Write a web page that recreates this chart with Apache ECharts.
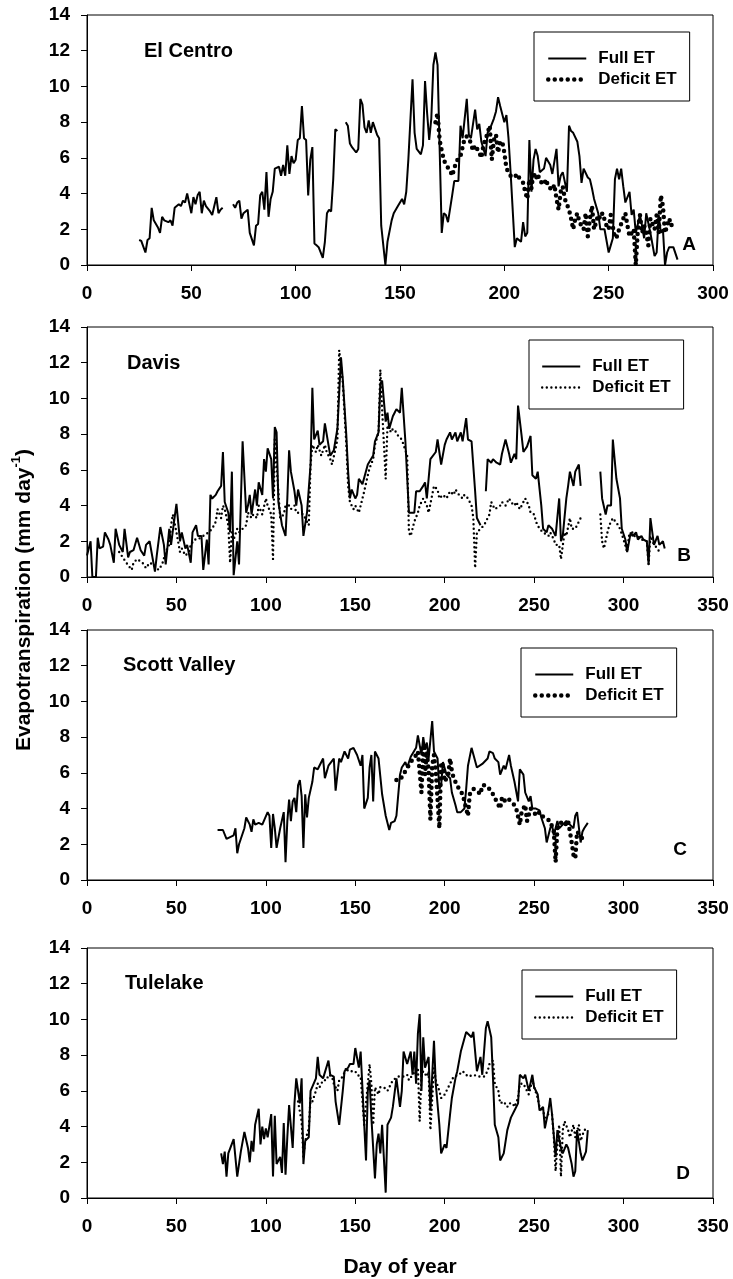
<!DOCTYPE html>
<html>
<head>
<meta charset="utf-8">
<script src="https://cdn.jsdelivr.net/npm/echarts@6/dist/echarts.min.js"></script>
<style>
  html, body { margin: 0; padding: 0; background: #fff; }
  #chart { width: 733px; height: 1279px; }
</style>
</head>
<body>
<div id="chart"></div>
<script>
// [day of year, ET mm/day]; null = gap in the record
const elCentroFull = [[25,1.4],[26,1.35],[28,0.7],[29,1.4],[30,1.5],[31,3.2],[32,2.5],[34,2.1],[35,1.8],[36,2.7],[37,2.5],[39,2.4],[40,2.5],[41,2.2],[42,3.2],[44,3.4],[45,3.3],[46,3.6],[47,3.5],[48,4.0],[50,2.9],[51,3.8],[52,3.4],[53,3.9],[54,4.1],[55,2.9],[56,3.6],[57,3.3],[59,3.0],[60,2.8],[61,3.3],[62,3.8],[63,2.9],[64,3.1],[65,3.2],[67,null],
  [70,3.4],[71,3.2],[72,3.5],[73,3.6],[74,2.6],[75,2.9],[77,3.1],[78,1.8],[80,1.1],[81,2.2],[82,2.3],[83,3.9],[84,4.1],[85,3.1],[86,5.2],[87,2.7],[88,3.7],[89,4.1],[90,5.4],[92,5.5],[93,5.0],[94,5.6],[95,5.0],[96,6.7],[97,5.1],[98,6.1],[99,5.7],[100,5.9],[101,7.0],[102,7.1],[103,8.9],[104,7.1],[105,7.0],[106,3.9],[107,5.9],[108,6.6],[109,1.2],[110,1.1],[111,1.0],[113,0.4],[114,1.3],[115,2.9],[116,3.1],[117,3.0],[118,4.8],[119,7.6],[120,7.5],[122,null],
  [124,8.0],[125,7.8],[126,6.8],[127,6.6],[129,6.3],[130,6.5],[131,9.3],[132,9.0],[133,7.7],[134,7.4],[135,8.1],[136,7.4],[137,8.0],[139,7.3],[140,7.1],[141,2.2],[143,0.0],[144,1.3],[146,2.5],[147,2.9],[149,3.3],[150,3.5],[151,3.7],[152,3.4],[153,4.1],[154,5.9],[156,10.4],[157,7.4],[158,6.5],[160,6.2],[161,6.7],[162,10.3],[163,8.5],[164,7.0],[165,8.2],[166,11.2],[167,11.9],[168,11.2],[169,6.5],[170,1.8],[171,2.9],[172,2.8],[173,2.4],[175,3.9],[176,4.7],[178,4.7],[179,7.8],[180,7.1],[182,9.3],[183,7.3],[184,7.1],[186,8.7],[187,7.6],[188,7.9],[189,6.9],[191,6.1],[192,7.4],[193,7.6],[195,8.2],[196,8.6],[197,9.4],[198,8.9],[200,8.0],[201,8.4],[202,7.1],[203,5.2],[205,1.0],[206,1.5],[208,1.3],[209,2.4],[210,1.6],[211,1.8],[212,7.0],[213,4.1],[214,5.9],[215,6.5],[216,6.1],[217,5.2],[219,5.4],[220,6.0],[222,5.6],[223,5.1],[225,6.5],[226,4.4],[227,5.0],[228,5.2],[230,4.1],[231,7.8],[232,7.5],[233,7.4],[235,6.9],[236,6.1],[237,4.6],[238,5.4],[240,4.9],[241,4.8],[242,4.3],[243,3.7],[245,2.9],[246,2.0],[248,2.0],[250,0.7],[251,1.1],[252,1.5],[253,4.8],[254,5.4],[255,4.8],[256,5.4],[257,4.4],[258,3.5],[260,4.1],[261,2.8],[262,3.1],[263,1.8],[265,2.8],[266,2.2],[267,1.5],[268,2.9],[270,1.8],[272,0.5],[273,0.7],[274,2.8],[275,1.8],[276,2.0],[277,0.0],[278,0.7],[279,1.0],[281,1.0],[283,0.3]];

const elCentroDeficit = [[167,8.0],[168,8.5],[169,7.0],[170,6.4],[171,5.9],[172,5.6],[174,5.3],[175,5.0],[176,5.4],[177,5.8],[179,6.1],[180,6.6],[181,7.1],[182,7.2],[183,7.1],[184,6.8],[185,6.4],[186,6.7],[188,6.3],[189,6.0],[190,6.7],[192,7.4],[193,7.8],[194,5.9],[195,7.0],[196,7.3],[197,6.3],[198,6.9],[199,6.9],[200,6.3],[201,5.4],[202,5.2],[203,5.0],[205,4.9],[206,5.1],[207,4.9],[209,4.6],[210,4.1],[211,3.7],[212,4.8],[213,4.3],[214,5.2],[215,4.8],[216,5.1],[217,4.7],[219,4.5],[220,4.8],[221,4.4],[223,4.2],[224,4.5],[225,3.7],[226,3.1],[227,4.1],[228,4.4],[229,3.7],[231,3.1],[232,2.6],[233,2.0],[234,2.6],[235,2.9],[236,2.4],[238,2.0],[239,2.9],[240,1.6],[241,2.6],[242,3.3],[243,2.0],[245,2.8],[246,2.6],[247,2.9],[249,2.2],[250,2.0],[251,2.8],[253,1.5],[254,1.6],[255,2.0],[257,2.6],[258,2.9],[259,2.2],[260,1.6],[262,2.0],[263,0.0],[264,2.0],[265,2.8],[266,1.8],[267,2.2],[268,1.8],[269,1.1],[270,2.6],[272,2.0],[273,2.8],[274,1.8],[275,3.9],[276,3.3],[277,1.8],[279,2.6],[280,2.2],[281,2.5]];

const davisFull = [[0,1.2],[1,1.1],[2,2.0],[3,0],[5,0],[6,2.2],[7,1.6],[9,1.7],[10,2.5],[12,2.1],[13,1.8],[15,0.8],[16,2.7],[18,1.8],[20,1.4],[21,2.7],[23,1.1],[24,1.4],[26,1.5],[28,2.2],[30,1.5],[32,1.2],[33,1.8],[35,2.0],[36,2.1],[38,0.3],[39,1.2],[41,2.8],[43,1.8],[44,0.7],[46,2.7],[47,1.8],[48,2.6],[50,4.1],[52,2.0],[53,2.5],[55,1.6],[56,1.8],[58,0.8],[59,2.5],[61,2.9],[62,2.3],[64,2.3],[65,0.4],[67,2.1],[68,0.7],[69,4.6],[70,4.4],[72,4.6],[73,4.8],[75,5.1],[76,7.0],[77,4.2],[79,3.6],[80,2.5],[81,5.9],[82,0.1],[84,2.0],[85,0.7],[87,7.6],[89,3.6],[90,4.0],[91,4.6],[92,3.5],[94,4.9],[95,4.0],[96,5.3],[98,4.6],[99,6.6],[100,5.9],[101,7.2],[103,6.6],[104,4.4],[105,8.4],[106,8.1],[107,4.2],[109,2.9],[111,2.3],[112,4.4],[113,7.1],[114,5.9],[116,4.8],[117,4.0],[118,4.9],[120,4.0],[121,2.3],[123,3.6],[124,3.5],[125,6.3],[126,10.6],[127,7.7],[129,8.2],[130,7.4],[132,7.6],[133,8.6],[135,7.4],[136,6.8],[138,7.1],[139,7.7],[140,8.3],[142,12.3],[143,11.1],[145,7.9],[146,5.9],[147,4.4],[148,4.9],[150,4.4],[151,4.6],[152,5.5],[154,5.2],[155,5.1],[157,6.3],[158,6.4],[160,6.8],[161,7.6],[163,8.1],[164,10.8],[165,11.0],[167,8.7],[168,9.2],[169,8.3],[171,9.0],[172,9.2],[173,9.4],[175,9.2],[176,10.6],[178,7.6],[180,3.6],[181,3.5],[183,3.6],[184,4.8],[186,4.8],[188,5.1],[189,5.3],[190,4.4],[192,6.6],[193,6.6],[195,7.0],[196,7.7],[198,6.3],[200,7.4],[201,7.7],[203,8.1],[204,7.7],[206,8.1],[207,7.6],[209,8.1],[210,7.6],[212,8.9],[213,7.7],[215,7.6],[217,4.8],[218,3.3],[220,2.9],[221,null],
  [223,4.8],[224,6.6],[226,6.4],[227,6.6],[229,6.4],[231,6.3],[232,6.9],[234,7.7],[236,6.9],[237,6.4],[239,6.9],[240,6.6],[241,9.6],[243,7.9],[244,7.0],[246,7.3],[248,7.9],[249,5.7],[251,5.5],[252,5.9],[254,4.0],[255,2.7],[257,2.5],[258,2.9],[260,2.7],[261,2.5],[262,2.3],[264,4.4],[265,2.0],[266,2.3],[268,4.4],[269,5.1],[270,5.9],[272,5.1],[273,5.9],[275,6.3],[276,5.1],[280,null],
  [287,5.9],[288,4.4],[290,3.5],[291,4.0],[293,4.0],[294,7.7],[296,5.5],[298,4.4],[299,2.7],[301,2.1],[302,1.4],[304,2.5],[305,2.3],[307,2.5],[308,2.1],[310,2.3],[311,2.1],[313,2.0],[314,0.7],[315,3.3],[317,1.8],[319,2.3],[320,1.8],[322,2.0],[323,1.6]];

const davisDeficit = [[18,1.4],[20,1.1],[22,0.8],[23,0.7],[25,0.4],[26,0.8],[28,1.0],[31,0.8],[33,0.5],[35,0.8],[37,0.7],[40,0.4],[42,0.7],[44,1.4],[46,1.8],[47,2.9],[48,3.5],[50,2.5],[52,1.4],[53,1.6],[55,1.2],[57,1.4],[58,1.8],[60,2.1],[62,2.1],[65,2.3],[66,2.4],[68,2.5],[70,2.7],[72,3.1],[73,3.8],[75,3.3],[76,4.0],[77,3.8],[79,2.9],[80,0.8],[81,2.5],[82,2.1],[84,2.7],[85,2.5],[87,2.7],[89,2.9],[90,3.6],[92,3.3],[93,3.5],[95,3.3],[96,4.0],[98,3.5],[100,4.4],[101,4.0],[103,3.5],[104,1.0],[105,7.7],[106,7.7],[108,3.3],[110,3.5],[111,4.0],[113,4.0],[114,3.8],[116,4.0],[117,3.6],[119,3.6],[121,3.5],[122,3.3],[124,2.9],[125,6.3],[126,7.4],[128,7.0],[129,7.4],[131,6.8],[133,7.4],[134,7.0],[136,6.6],[137,6.3],[139,7.2],[140,7.7],[141,12.7],[143,10.9],[145,7.4],[146,5.1],[147,4.2],[149,3.8],[150,4.0],[152,3.6],[154,4.4],[155,4.8],[157,5.7],[158,6.1],[160,6.6],[161,7.4],[163,8.1],[164,11.6],[165,9.4],[167,5.5],[168,8.5],[170,8.1],[171,8.3],[173,8.1],[174,7.9],[176,7.7],[177,7.6],[179,6.8],[180,2.5],[181,2.3],[183,3.1],[185,3.6],[186,4.0],[188,4.4],[190,4.0],[191,3.6],[193,4.6],[194,5.1],[196,4.9],[197,4.4],[199,4.6],[201,4.4],[202,4.6],[203,4.8],[205,4.6],[206,4.9],[208,4.6],[210,4.4],[211,4.6],[213,4.4],[215,4.0],[216,3.3],[217,0.5],[218,2.5],[220,2.7],[222,2.9],[223,3.1],[225,3.5],[226,4.2],[228,3.8],[229,3.8],[231,4.0],[232,4.2],[234,4.0],[236,4.4],[237,4.2],[239,4.0],[240,4.2],[242,3.8],[244,4.2],[245,4.4],[247,4.0],[248,3.6],[250,3.5],[251,3.1],[253,2.7],[255,2.5],[256,2.5],[258,2.3],[259,2.5],[261,2.1],[262,1.8],[264,1.8],[265,1.0],[267,2.5],[268,2.3],[270,3.3],[271,2.7],[273,2.7],[274,2.7],[276,3.3],[280,null],
  [287,3.5],[288,2.0],[289,1.6],[291,2.5],[292,2.9],[294,3.3],[295,3.3],[297,2.9],[298,2.7],[300,2.1],[302,1.4],[303,2.3],[305,2.5],[306,2.3],[308,2.3],[310,2.1],[311,2.1],[313,2.0],[314,0.7],[315,2.3],[317,1.8],[319,1.6],[320,1.4]];

const scottFull = [[73,2.8],[76,2.8],[78,2.3],[80,2.4],[82,2.5],[83,2.9],[84,1.5],[85,2.0],[86,2.0],[88,2.9],[89,3.5],[91,3.1],[92,2.7],[93,3.4],[94,3.1],[96,3.2],[98,3.1],[99,3.0],[101,3.8],[102,3.6],[103,1.8],[104,3.7],[105,2.9],[106,1.8],[108,2.9],[109,2.8],[110,3.8],[111,1.0],[112,3.3],[113,4.5],[114,3.3],[115,4.4],[116,4.6],[117,3.8],[118,5.3],[119,5.6],[120,4.7],[121,1.8],[122,4.8],[123,3.5],[124,4.6],[126,5.5],[127,6.3],[129,6.2],[130,6.1],[132,6.8],[133,5.7],[135,6.4],[136,6.5],[138,6.8],[139,5.0],[141,6.8],[142,6.6],[144,7.2],[146,6.8],[147,7.3],[149,7.4],[150,7.4],[151,7.0],[153,6.4],[154,7.0],[155,4.0],[157,4.6],[158,6.3],[159,7.0],[160,4.4],[161,7.2],[163,6.8],[164,6.8],[165,4.8],[167,3.6],[169,2.8],[170,3.2],[172,3.3],[173,3.6],[175,5.9],[176,6.3],[178,6.6],[179,6.3],[181,6.9],[182,6.8],[184,7.4],[185,8.1],[187,7.0],[188,8.0],[189,7.3],[190,7.7],[191,6.8],[193,8.9],[194,7.2],[196,6.8],[197,5.1],[198,5.3],[199,6.6],[201,5.9],[203,5.7],[204,4.9],[206,4.2],[207,3.8],[209,3.8],[211,4.0],[212,5.1],[213,6.4],[215,7.4],[216,7.5],[218,6.3],[219,6.2],[221,6.5],[222,6.6],[224,6.8],[225,7.2],[227,7.1],[228,6.8],[230,6.6],[231,5.9],[233,6.4],[234,6.2],[236,7.0],[237,6.4],[239,5.5],[241,4.4],[242,6.2],[244,5.9],[245,4.9],[247,4.4],[248,4.7],[249,4.0],[251,4.0],[253,3.9],[254,3.5],[256,2.9],[257,2.1],[259,2.9],[260,3.1],[261,2.5],[263,3.3],[264,2.9],[266,3.1],[268,3.3],[269,3.4],[270,3.1],[272,2.9],[273,3.6],[274,3.8],[276,2.1],[277,2.7],[278,2.9],[280,3.2]];

const scottDeficit = [[173,5.6],[175,5.6],[176,5.6],[178,6.1],[179,6.0],[181,6.6],[182,6.6],[184,7.0],[185,7.2],[187,4.9],[188,7.4],[189,5.9],[190,7.2],[191,6.1],[192,3.4],[193,6.4],[194,7.0],[195,6.1],[197,2.9],[198,6.6],[199,6.4],[200,5.5],[202,5.9],[203,6.8],[204,6.1],[205,5.7],[207,5.3],[208,5.1],[210,4.8],[212,4.0],[213,3.6],[214,4.8],[216,5.1],[218,5.0],[220,4.8],[221,5.3],[223,5.3],[225,5.1],[227,4.8],[229,4.4],[231,4.0],[232,4.6],[233,4.4],[235,4.6],[237,4.4],[239,4.2],[240,4.0],[242,3.1],[243,3.8],[245,4.2],[246,3.3],[248,4.0],[250,3.8],[251,3.6],[253,3.8],[254,3.6],[256,3.5],[257,3.6],[259,3.3],[261,2.7],[262,1.0],[263,2.9],[264,3.1],[266,3.3],[268,3.1],[269,3.3],[271,2.1],[272,1.4],[273,1.2],[274,2.7],[276,2.5],[277,2.3]];

const tulelakeFull = [[75,2.5],[76,1.9],[77,2.6],[78,1.2],[79,2.5],[80,2.6],[82,3.3],[83,3.2],[84,1.2],[86,2.6],[87,2.7],[88,3.7],[89,3.8],[90,2.8],[91,2.0],[92,3.2],[93,2.6],[94,4.1],[96,5.0],[97,3.0],[98,4.0],[99,3.3],[100,3.9],[101,3.4],[103,4.7],[104,1.2],[105,4.6],[106,1.9],[108,2.3],[109,1.4],[110,4.2],[111,1.3],[112,3.4],[113,5.2],[114,5.3],[115,2.8],[116,5.3],[117,6.7],[119,5.3],[120,6.7],[121,1.9],[122,3.2],[124,3.4],[125,6.0],[126,6.0],[128,6.7],[129,7.9],[130,6.9],[132,6.7],[133,6.6],[135,7.7],[136,6.9],[138,6.8],[139,5.4],[141,4.1],[143,6.0],[144,7.1],[146,7.3],[147,7.5],[149,7.5],[150,8.4],[152,7.3],[153,8.2],[155,4.1],[156,2.1],[157,6.0],[158,6.6],[159,4.5],[161,1.1],[162,3.0],[163,3.6],[164,2.5],[165,4.1],[167,0.3],[168,4.1],[170,4.5],[171,5.1],[173,6.7],[175,5.1],[176,6.0],[177,8.2],[179,7.5],[181,8.2],[182,6.9],[183,8.2],[184,6.4],[185,9.2],[186,10.3],[187,6.0],[188,9.0],[189,7.3],[191,7.9],[192,4.9],[194,8.8],[195,6.4],[197,4.1],[198,2.5],[200,3.0],[201,2.8],[203,4.7],[204,5.6],[206,6.7],[207,7.1],[209,8.2],[210,8.2],[212,9.3],[213,9.2],[215,9.0],[216,9.3],[218,7.1],[220,7.9],[221,6.9],[223,9.5],[224,9.9],[226,9.0],[227,6.7],[228,4.1],[230,3.4],[231,2.1],[233,2.5],[235,3.8],[237,4.5],[239,4.9],[241,5.3],[242,6.9],[244,6.7],[245,6.9],[247,6.0],[249,6.9],[250,6.2],[252,5.8],[253,4.9],[255,5.1],[256,3.9],[258,4.9],[259,5.6],[260,4.7],[262,2.3],[263,3.8],[265,2.8],[266,2.5],[268,3.0],[269,2.8],[271,1.9],[272,1.2],[273,1.5],[274,3.8],[276,2.5],[277,2.1],[279,2.6],[280,3.8]];

const tulelakeDeficit = [[118,5.4],[120,4.3],[121,2.3],[122,3.2],[124,3.9],[125,5.6],[126,5.4],[128,6.0],[129,6.4],[130,6.2],[132,6.6],[134,6.6],[135,6.9],[137,6.8],[138,6.4],[140,6.0],[141,6.6],[143,6.8],[145,7.3],[146,7.1],[148,7.1],[150,7.1],[151,6.9],[153,6.8],[154,6.9],[155,4.1],[156,5.3],[158,7.5],[159,6.4],[160,4.1],[161,6.2],[163,5.8],[164,6.2],[166,6.2],[168,6.0],[169,6.2],[171,6.6],[172,6.6],[174,6.8],[175,6.9],[177,6.8],[179,6.9],[180,6.6],[182,6.9],[183,6.8],[185,7.3],[186,4.3],[187,6.9],[188,7.1],[190,6.8],[191,7.1],[192,3.8],[194,7.3],[195,6.6],[197,6.0],[198,5.6],[200,5.8],[201,5.8],[203,6.4],[205,6.8],[206,6.8],[208,6.9],[210,7.1],[211,7.0],[213,6.8],[214,6.8],[216,6.9],[217,6.8],[219,6.8],[220,6.9],[222,6.8],[224,7.1],[225,7.5],[227,7.7],[228,6.4],[230,6.0],[231,5.3],[233,5.4],[235,5.1],[236,5.3],[238,5.3],[239,5.1],[241,5.6],[242,6.4],[244,6.4],[245,6.2],[247,5.8],[249,6.6],[250,6.2],[252,5.6],[253,5.1],[255,4.9],[256,4.5],[258,4.7],[260,4.7],[261,3.4],[262,1.5],[263,3.0],[264,4.1],[265,1.2],[266,3.8],[267,4.3],[269,3.8],[270,3.4],[272,4.1],[273,3.4],[275,4.1],[276,3.2],[278,3.8],[280,3.9]];

const stations = ['El Centro', 'Davis', 'Scott Valley', 'Tulelake'];
const panelLetters = ['A', 'B', 'C', 'D'];
const xMaxes = [300, 350, 350, 350];
const yTicks = [0, 2, 4, 6, 8, 10, 12, 14];

const FONT = '"Liberation Sans", Arial, Helvetica, sans-serif';
const fullLine = { color: '#000', width: 2 };
const bigDots = { color: '#000', width: 4.5, type: [0, 6.5], cap: 'round' };
const smallDots = { color: '#000', width: 2.4, type: [0, 4.6], cap: 'round' };

const panels = [
  { full: elCentroFull, deficit: elCentroDeficit, dots: bigDots, top: 15, legend: [534, 32], name: [144, 51], letter: [689, 245] },
  { full: davisFull, deficit: davisDeficit, dots: smallDots, top: 327, legend: [529, 340], name: [127, 363], letter: [684, 556] },
  { full: scottFull, deficit: scottDeficit, dots: bigDots, top: 630, legend: [521, 648], name: [123, 665], letter: [680, 850] },
  { full: tulelakeFull, deficit: tulelakeDeficit, dots: smallDots, top: 948, legend: [522, 970], name: [125, 983], letter: [683, 1174] }
];

const grid = [], xAxis = [], yAxis = [], series = [], legend = [], graphic = [];

panels.forEach((p, i) => {
  const tag = ' ' + panelLetters[i];
  grid.push({
    left: 87, top: p.top, width: 626, height: 250,
    show: true, borderColor: '#000', borderWidth: 1,
    outerBoundsMode: 'none'
  });
  xAxis.push({
    gridIndex: i, type: 'value', min: 0, max: xMaxes[i], interval: 50,
    axisLine: { show: true, onZero: false, lineStyle: { color: '#000', width: 1 } },
    axisTick: { show: true, inside: false, length: 6, lineStyle: { color: '#000', width: 1 } },
    axisLabel: { color: '#000', fontSize: 19, fontWeight: 'bold', fontFamily: FONT, margin: 19, showMaxLabel: true, showMinLabel: true },
    splitLine: { show: false }
  });
  yAxis.push({
    gridIndex: i, type: 'value', min: yTicks[0], max: yTicks[yTicks.length - 1], interval: 2,
    axisLine: { show: true, onZero: false, lineStyle: { color: '#000', width: 1 } },
    axisTick: { show: true, inside: false, length: 6, lineStyle: { color: '#000', width: 1 } },
    axisLabel: { color: '#000', fontSize: 19, fontWeight: 'bold', fontFamily: FONT, margin: 17, showMaxLabel: true, showMinLabel: true },
    splitLine: { show: false }
  });
  series.push({
    name: 'Full ET' + tag, type: 'line', xAxisIndex: i, yAxisIndex: i,
    data: p.full, symbol: 'none', connectNulls: false, lineStyle: fullLine,
    itemStyle: { color: '#000' }, silent: true, z: 2
  });
  series.push({
    name: 'Deficit ET' + tag, type: 'line', xAxisIndex: i, yAxisIndex: i,
    data: p.deficit, symbol: 'none', connectNulls: false, lineStyle: p.dots,
    itemStyle: { color: '#000' }, silent: true, z: 3
  });
  legend.push({
    data: [
      { name: 'Full ET' + tag, lineStyle: { color: '#000', width: 2, type: 'solid' } },
      { name: 'Deficit ET' + tag, lineStyle: { color: '#000', width: p.dots.width, type: p.dots.type, cap: 'round' } }
    ],
    formatter: (n) => n.replace(/ [A-D]$/, ''),
    orient: 'vertical', left: p.legend[0], top: p.legend[1],
    borderColor: '#000', borderWidth: 1, backgroundColor: '#fff',
    padding: [18, 13, 13, 12], itemGap: 4, itemWidth: 38, itemHeight: 14,
    selectedMode: false,
    // hide the legend marker symbol, keep only the line sample
    itemStyle: { color: 'rgba(0,0,0,0)', borderWidth: 0, opacity: 0 },
    textStyle: { color: '#000', fontSize: 17, fontWeight: 'bold', fontFamily: FONT, padding: [0, 0, 0, 7] }
  });
  graphic.push({
    type: 'text', x: p.name[0], y: p.name[1],
    style: { text: stations[i], font: 'bold 20px ' + FONT, fill: '#000', textAlign: 'left', textVerticalAlign: 'middle' }
  });
  graphic.push({
    type: 'text', x: p.letter[0], y: p.letter[1],
    style: { text: panelLetters[i], font: 'bold 19px ' + FONT, fill: '#000', textAlign: 'center', textVerticalAlign: 'middle' }
  });
});

graphic.push({
  type: 'text', x: 24, y: 600, rotation: Math.PI / 2,
  style: {
    text: '{t|Evapotranspiration (mm day}{s|-1}{t|)}',
    textAlign: 'center', textVerticalAlign: 'middle', fill: '#000',
    rich: {
      t: { fontSize: 21, fontWeight: 'bold', fontFamily: FONT, color: '#000', lineHeight: 28 },
      s: { fontSize: 13, fontWeight: 'bold', fontFamily: FONT, color: '#000', lineHeight: 13, verticalAlign: 'top' }
    }
  }
});
graphic.push({
  type: 'text', x: 400, y: 1267,
  style: { text: 'Day of year', font: 'bold 21px ' + FONT, fill: '#000', textAlign: 'center', textVerticalAlign: 'middle' }
});

const myChart = echarts.init(document.getElementById('chart'), null, { renderer: 'canvas' });
myChart.setOption({
  animation: false,
  backgroundColor: '#fff',
  grid, xAxis, yAxis, series, legend, graphic
});
</script>
</body>
</html>
